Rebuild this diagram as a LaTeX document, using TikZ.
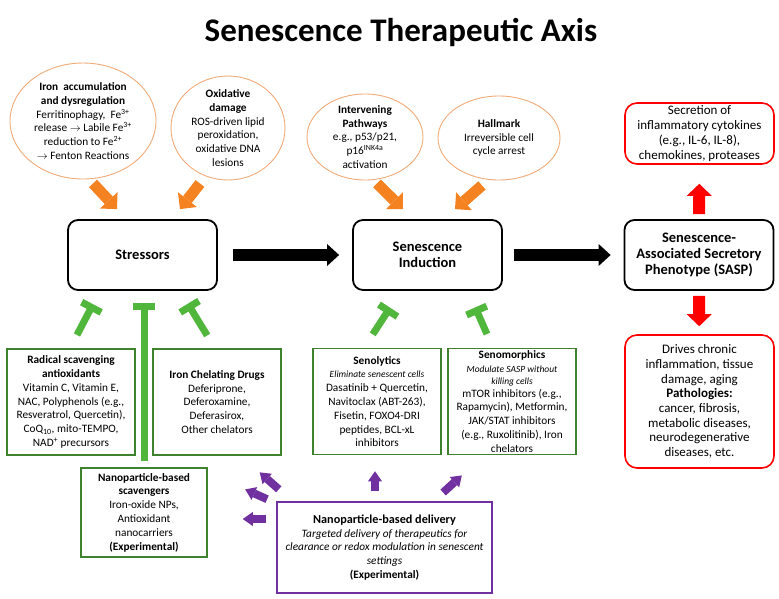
\documentclass[tikz,border=0pt]{standalone}
\usepackage{fontspec}
\setmainfont{Carlito}
\usetikzlibrary{shapes.geometric,arrows.meta,positioning}
\definecolor{hotorange}{RGB}{245,130,32}
\definecolor{paleorange}{RGB}{240,170,120}
\definecolor{blockgreen}{RGB}{80,182,60}
\definecolor{boxgreen}{RGB}{62,130,45}
\definecolor{npurple}{RGB}{112,48,160}

\begin{document}
\begin{tikzpicture}[x=1pt, y=-1pt,
    font=\fontsize{11.3}{13.8}\selectfont,
    stage/.style={draw, rounded corners=10pt, line width=1.8pt, minimum width=149pt, minimum height=70pt, align=center, font=\bfseries\fontsize{14.5}{16}\selectfont},
    oval/.style={ellipse, draw=paleorange, line width=0.9pt, inner sep=-14pt, align=center},
    effect/.style={draw=red, rounded corners=12pt, line width=1.6pt, minimum width=149pt, inner ysep=1pt, align=center, font=\fontsize{13}{14.7}\selectfont},
    therapy/.style={draw=boxgreen, line width=1.5pt, minimum width=128pt, minimum height=106pt, inner ysep=1pt, align=center},
    hot/.style={draw=hotorange, line width=11pt, -{Triangle[length=12pt,width=24pt,line width=0pt]}},
    flow/.style={draw=black, line width=11.5pt, -{Triangle[length=12pt,width=22pt,line width=0pt]}},
    secrete/.style={draw=red, line width=12pt, -{Triangle[length=12pt,width=25pt,line width=0pt]}},
    inhib/.style={draw=blockgreen, line width=7pt, -{Bar[width=22pt,line width=7pt]}},
    deliver/.style={draw=npurple, line width=8pt, -{Triangle[length=10pt,width=14pt,line width=0pt]}}]

\useasboundingbox (0,0) rectangle (779,598);

\node[font=\bfseries\fontsize{33}{36}\selectfont] (title) at (401,32) {Senescence Therapeutic Axis};

\node[oval, minimum width=146pt, minimum height=116pt] (iron) at (83,121) {\textbf{Iron\ \ accumulation}\\\textbf{and dysregulation}\\Ferritinophagy,\ \ Fe\textsuperscript{3+}\\release $\rightarrow$ Labile Fe\textsuperscript{3+}\\reduction to Fe\textsuperscript{2+}\\$\rightarrow$ Fenton Reactions};
\node[oval, minimum width=114pt, minimum height=104pt] (oxid) at (228,128) {\textbf{Oxidative}\\\textbf{damage}\\ROS-driven lipid\\peroxidation,\\oxidative DNA\\lesions};
\node[oval, minimum width=116pt, minimum height=86pt] (pathways) at (365,137) {\textbf{Intervening}\\\textbf{Pathways}\\e.g., p53/p21,\\p16\textsuperscript{INK4a}\\activation};
\node[oval, minimum width=122pt, minimum height=84pt] (hallmark) at (499,138) {\textbf{Hallmark}\\Irreversible cell\\cycle arrest};

\node[stage] (stressors) at (142.5,255) {Stressors};
\node[stage, on grid, right=285pt of stressors] (induction) {Senescence\\Induction};
\node[stage, on grid, right=271.5pt of induction] (sasp) {Senescence-\\Associated Secretory\\Phenotype (SASP)};

\node[effect, minimum height=61pt] (secretion) at (699.5,133.5) {Secretion of\\inflammatory cytokines\\(e.g., IL-6, IL-8),\\chemokines, proteases};
\node[effect, minimum height=133pt] (drives) at (699.5,401.5) {Drives chronic\\inflammation, tissue\\damage, aging\\\textbf{Pathologies:}\\cancer, fibrosis,\\metabolic diseases,\\neurodegenerative\\diseases, etc.};

\node[therapy] (radical) at (71,402) {\textbf{Radical scavenging}\\\textbf{antioxidants}\\Vitamin C, Vitamin E,\\NAC, Polyphenols (e.g.,\\Resveratrol, Quercetin),\\CoQ\textsubscript{10}, mito-TEMPO,\\NAD\textsuperscript{+} precursors};
\node[therapy, on grid, right=146pt of radical] (chelate) {\textbf{Iron Chelating Drugs}\\Deferiprone,\\Deferoxamine,\\Deferasirox,\\Other chelators};
\node[therapy] (senolytics) at (377,401.5) {\textbf{Senolytics}\\{\itshape\fontsize{9.5}{11}\selectfont Eliminate senescent cells}\\Dasatinib + Quercetin,\\Navitoclax (ABT-263),\\Fisetin, FOXO4-DRI\\peptides, BCL-xL\\inhibitors};
\node[therapy, on grid, right=135pt of senolytics] (senomorph) {\textbf{Senomorphics}\\{\itshape\fontsize{9.5}{11}\selectfont Modulate SASP without}\\[-2pt]{\itshape\fontsize{9.5}{11}\selectfont killing cells}\\[-1pt]mTOR inhibitors (e.g.,\\Rapamycin), Metformin,\\JAK/STAT inhibitors\\(e.g., Ruxolitinib), Iron\\chelators};
\node[therapy, minimum width=126pt, minimum height=89pt] (scav) at (144,512.5) {\textbf{Nanoparticle-based}\\\textbf{scavengers}\\Iron-oxide NPs,\\Antioxidant\\nanocarriers\\\textbf{(Experimental)}};
\node[draw=npurple, line width=1.5pt, minimum width=215pt, minimum height=91pt, align=center] (delivery) at (384.5,547.5) {\textbf{\fontsize{12.2}{14}\selectfont Nanoparticle-based delivery}\\\textit{Targeted delivery of therapeutics for}\\\textit{clearance or redox modulation in senescent}\\\textit{settings}\\\textbf{(Experimental)}};

\draw[hot] ([xshift=10pt,yshift=-4pt]iron.south) -- ([xshift=-25.5pt,yshift=10pt]stressors.north);
\draw[hot] ([xshift=-28pt,yshift=-3pt]oxid.south) -- ([xshift=37.5pt,yshift=10pt]stressors.north);
\draw[hot] ([xshift=12pt,yshift=-3pt]pathways.south) -- ([xshift=-24.5pt,yshift=10pt]induction.north);
\draw[hot] ([xshift=-17pt,yshift=-5pt]hallmark.south) -- ([xshift=27.5pt,yshift=10pt]induction.north);

\draw[flow, shorten <=15pt, shorten >=13pt] (stressors) -- (induction);
\draw[flow, shorten <=11pt, shorten >=13pt] (induction) -- (sasp);
\draw[secrete, shorten <=5pt, shorten >=19pt] (sasp) -- (secretion);
\draw[secrete, shorten <=5pt, shorten >=8pt] (sasp) -- (drives);

\draw[inhib, shorten <=15pt, shorten >=15pt] ([xshift=-1pt]radical.north) -- ([xshift=-42.5pt]stressors.south);
\draw[inhib, shorten <=6pt, shorten >=12pt] (scav.north) -- (scav.north |- stressors.south);
\draw[inhib, shorten <=15pt, shorten >=15pt] ([xshift=-2pt]chelate.north) -- ([xshift=37.5pt]stressors.south);
\draw[inhib, shorten <=16pt, shorten >=20pt] ([xshift=-13pt]senolytics.north) -- ([xshift=-26.5pt]induction.south);
\draw[inhib, shorten <=15pt, shorten >=18pt] ([xshift=-19pt]senomorph.north) -- ([xshift=40.5pt]induction.south);

\draw[deliver, shorten <=10pt, shorten >=16pt] ([xshift=-9.5pt]delivery.north) -- ([xshift=-2pt]senolytics.south);
\draw[deliver, shorten <=13pt, shorten >=30pt] ([xshift=49pt]delivery.north) -- ([xshift=-28pt]senomorph.south);
\draw[deliver, shorten <=18pt, shorten >=25pt] ([xshift=16pt]delivery.north west) -- ([xshift=24pt]chelate.south);
\draw[deliver, shorten <=10pt, shorten >=41pt] ([yshift=-2pt]delivery.north west) -- ([yshift=-5.5pt]scav.north east);
\draw[deliver, shorten <=10pt, shorten >=35pt] ([yshift=28.5pt]delivery.west) -- ([yshift=-6.5pt]scav.east);

\end{tikzpicture}
\end{document}
